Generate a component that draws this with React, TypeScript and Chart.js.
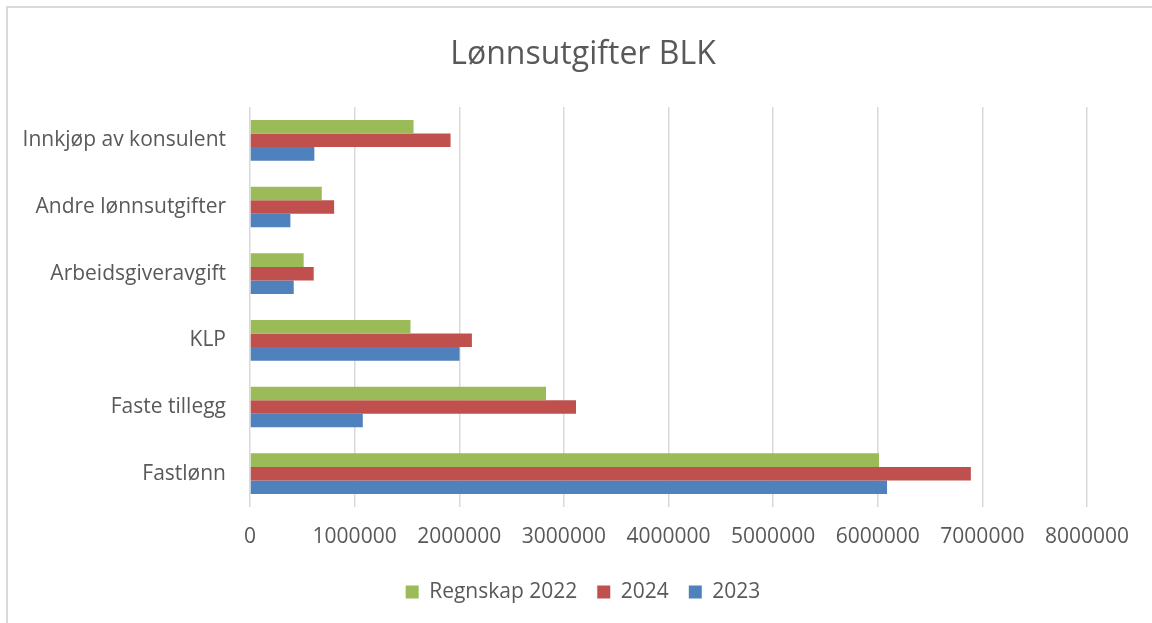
import React, { useEffect, useRef } from "react";
import { Chart, registerables } from "chart.js";

Chart.register(...registerables);

const categories = [
  "Innkjøp av konsulent",
  "Andre lønnsutgifter",
  "Arbeidsgiveravgift",
  "KLP",
  "Faste tillegg",
  "Fastlønn",
];
const regnskap2022 = [1563000, 686000, 513000, 1534000, 2829000, 6012000];
const values2024 = [1917000, 804000, 609000, 2121000, 3116000, 6890000];
const values2023 = [615000, 386000, 418000, 2003000, 1078000, 6089000];
const seriesNames = ["Regnskap 2022", "2024", "2023"];
const xMin = 0;
const xMax = 8000000;
const xStep = 1000000;

const FONT = "'Open Sans', 'DejaVu Sans', sans-serif";
const TEXT = "#595959";

export default function App() {
  const ref = useRef<HTMLCanvasElement | null>(null);

  useEffect(() => {
    if (!ref.current) return;
    const chart = new Chart(ref.current, {
      type: "bar",
      data: {
        labels: categories,
        datasets: [
          { label: seriesNames[0], data: regnskap2022, backgroundColor: "#9BBB59" },
          { label: seriesNames[1], data: values2024, backgroundColor: "#C0504D" },
          { label: seriesNames[2], data: values2023, backgroundColor: "#4F81BD" },
        ],
      },
      options: {
        indexAxis: "y",
        responsive: false,
        animation: false,
        devicePixelRatio: 1,
        datasets: { bar: { barPercentage: 1, categoryPercentage: 0.61 } },
        layout: { padding: { left: 0, right: 0, top: 0, bottom: 11.5 } },
        plugins: {
          title: {
            display: true,
            text: "Lønnsutgifter BLK",
            color: TEXT,
            font: { family: FONT, size: 32, weight: "normal" },
            padding: { top: 28, bottom: 32.6 },
          },
          legend: {
            position: "bottom",
            labels: {
              color: TEXT,
              font: { family: FONT, size: 21 },
              boxWidth: 13,
              boxHeight: 13,
              padding: 20,
            },
          },
          tooltip: { enabled: false },
        },
        scales: {
          x: {
            min: xMin,
            max: xMax,
            ticks: {
              stepSize: xStep,
              color: TEXT,
              font: { family: FONT, size: 21 },
              padding: 17,
              maxRotation: 0,
              callback: (v: any) => String(v),
            },
            grid: { color: "#D9D9D9", lineWidth: 1.5, drawTicks: false },
            border: { display: false },
            afterFit: (s: any) => {
              s.height = 54.5;
            },
          },
          y: {
            ticks: {
              color: TEXT,
              font: { family: FONT, size: 21 },
              padding: 24,
            },
            grid: { display: false, drawTicks: false },
            border: { display: false },
            afterFit: (s: any) => {
              s.width = 242;
            },
          },
          spacer: {
            type: "linear",
            position: "right",
            display: true,
            ticks: { display: false },
            grid: { display: false, drawTicks: false },
            border: { display: false },
            afterFit: (s: any) => {
              s.width = 71;
            },
          },
        },
      },
    });
    return () => chart.destroy();
  }, []);

  return (
    <div
      style={{
        position: "fixed",
        left: 0,
        top: 0,
        width: 1152,
        height: 623,
        overflow: "hidden",
        background: "#fff",
      }}
    >
      <div
        style={{
          position: "absolute",
          left: 6,
          top: 6,
          width: 1160,
          height: 650,
          border: "2px solid #D9D9D9",
          boxSizing: "border-box",
        }}
      />
      <canvas
        ref={ref}
        width={1150}
        height={616}
        style={{ position: "absolute", left: 8, top: 8, width: 1150, height: 616 }}
      />
    </div>
  );
}
